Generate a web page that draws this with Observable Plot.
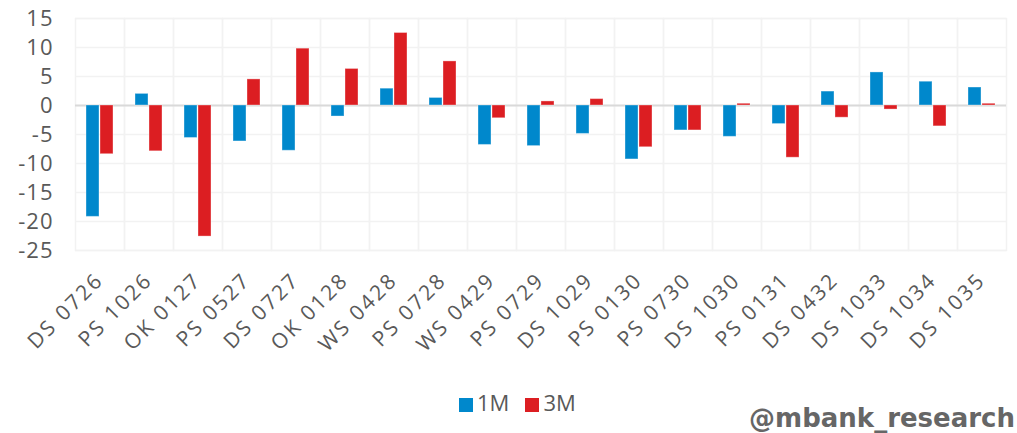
<!DOCTYPE html>
<html>
<head>
<meta charset="utf-8">
<script src="https://cdn.jsdelivr.net/npm/d3@7"></script>
<script src="https://cdn.jsdelivr.net/npm/@observablehq/plot@0.6"></script>
<style>
  html, body { margin: 0; padding: 0; background: #fff; }
  #wrap { position: relative; width: 1017px; height: 433px; font-family: "Open Sans", sans-serif; color: #595959; }
  #chart svg [aria-label="fx-axis tick label"] text { font-size: 21px; letter-spacing: 2.4px; }
  #chart svg [aria-label="y-axis tick label"] text { font-size: 22px; letter-spacing: 1px; }
  #legend { position: absolute; left: 459px; top: 390px; line-height: 24px; font-size: 22px; color: #595959; white-space: nowrap; }
  #legend span.item { display: inline-block; margin-right: 16px; }
  #legend span.sw { display: inline-block; width: 14px; height: 14px; vertical-align: -1px; margin-right: 4px; }
  #caption { position: absolute; right: 2px; top: 403px; line-height: 30px; font-family: "DejaVu Sans", sans-serif; font-weight: bold; font-size: 26px; color: #666; }
</style>
</head>
<body>
<div id="wrap">
  <div id="chart"></div>
  <div id="legend"></div>
  <div id="caption">@mbank_research</div>
</div>
<script>
const categories = ["DS 0726","PS 1026","OK 0127","PS 0527","DS 0727","OK 0128","WS 0428","PS 0728","WS 0429","PS 0729","DS 1029","PS 0130","PS 0730","DS 1030","PS 0131","DS 0432","DS 1033","DS 1034","DS 1035"];
const values1M = [-19.2, 2.0, -5.6, -6.2, -7.8, -1.9, 2.9, 1.3, -6.8, -7.0, -4.9, -9.3, -4.3, -5.4, -3.2, 2.4, 5.7, 4.1, 3.1];
const values3M = [-8.4, -7.9, -22.6, 4.5, 9.8, 6.3, 12.5, 7.6, -2.2, 0.7, 1.1, -7.2, -4.3, 0.3, -9.0, -2.1, -0.7, -3.6, 0.3];
const seriesNames = ["1M", "3M"];
const seriesColors = ["#0088cc", "#dc1e22"];
const yTicks = [-25, -20, -15, -10, -5, 0, 5, 10, 15];

const data = categories.flatMap((c, i) => [
  {cat: c, series: seriesNames[0], value: values1M[i]},
  {cat: c, series: seriesNames[1], value: values3M[i]}
]);

const chart = Plot.plot({
  width: 1017,
  height: 370,
  marginLeft: 72,
  marginRight: 9,
  marginTop: 18,
  marginBottom: 120,
  style: {fontFamily: "Open Sans, sans-serif", fontSize: "20px", color: "#595959", background: "#fff"},
  fx: {domain: categories, padding: 0, axis: "bottom", tickRotate: -45, tickSize: 0, tickPadding: 26, label: null},
  x: {domain: seriesNames, axis: null, paddingInner: 0.07, paddingOuter: 0.7},
  y: {domain: [-25, 15], ticks: yTicks, tickSize: 0, tickPadding: 22, tickFormat: d => String(d), label: null},
  color: {domain: seriesNames, range: seriesColors},
  marks: [
    Plot.gridY(yTicks, {stroke: "#f2f2f2", strokeOpacity: 1, strokeWidth: 1.5}),
    Plot.frame({stroke: "#f2f2f2", strokeWidth: 1.5}),
    Plot.ruleY([0], {stroke: "#d9d9d9", strokeWidth: 2}),
    Plot.barY(data, {fx: "cat", x: "series", y: "value", fill: "series", stroke: "#ffffff", strokeOpacity: 0.35, strokeWidth: 1})
  ]
});
document.getElementById("chart").appendChild(chart);

const legend = document.getElementById("legend");
seriesNames.forEach((s, i) => {
  const item = document.createElement("span");
  item.className = "item";
  const sw = document.createElement("span");
  sw.className = "sw";
  sw.style.background = seriesColors[i];
  item.appendChild(sw);
  item.appendChild(document.createTextNode(s));
  legend.appendChild(item);
});
</script>
</body>
</html>
